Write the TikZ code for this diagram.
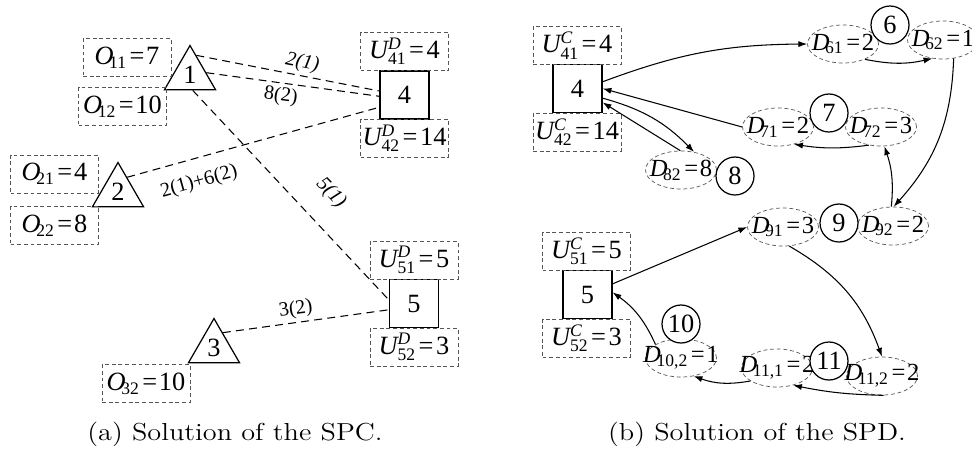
\documentclass[tikz,border=0pt]{standalone}
\usepackage{fontspec}
\usetikzlibrary{shapes.geometric,arrows.meta}
\newfontfamily\tnr{Liberation Serif}
\definecolor{boxgray}{HTML}{555555}

\newcommand{\olbl}[3]{{\tnr\itshape #1}\kern-2.5pt$_{\mbox{\tnr\fontsize{10}{10}\selectfont #2}}$\kern1.5pt{\tnr=\kern1pt#3}}
\newcommand{\ulbl}[4]{{\tnr\itshape #1}$^{\mbox{\tnr\itshape\fontsize{10}{10}\selectfont #2}}_{\mbox{\tnr\fontsize{10}{10}\selectfont #3}}$\kern1.5pt{\tnr=\kern1.5pt#4}}
\newcommand{\dlbl}[3]{\makebox[0pt]{\olbl{#1}{#2}{#3}}}

\tikzset{
  valbox/.style={draw=boxgray, dash pattern=on 2.2pt off 1.6pt, minimum width=1.76cm, minimum height=0.76cm, inner sep=0pt, font=\fontsize{15}{17}\selectfont},
  site/.style={draw, line width=0.7pt, minimum width=0.98cm, minimum height=0.96cm, inner sep=0pt, font=\tnr\fontsize{15}{17}\selectfont},
  depot/.style={draw, line width=0.7pt, regular polygon, regular polygon sides=3, minimum size=1.18cm, inner sep=0pt, font=\tnr\fontsize{15}{17}\selectfont},
  demand/.style={draw=boxgray, dash pattern=on 2.2pt off 1.6pt, ellipse, minimum width=1.42cm, minimum height=0.76cm, inner sep=0pt, font=\fontsize{14}{16}\selectfont},
  stop/.style={draw, fill=white, line width=0.7pt, circle, minimum size=0.76cm, inner sep=0pt, font=\tnr\fontsize{15}{17}\selectfont},
  route/.style={dash pattern=on 4.5pt off 3pt, line width=0.6pt},
  tour/.style={-{Latex[length=5pt,width=3.5pt]}, line width=0.6pt},
  cost/.style={font=\tnr\fontsize{11.5}{13}\selectfont, sloped, inner sep=2pt},
  caption/.style={font=\fontsize{14}{16}\selectfont}
}

\begin{document}
\begin{tikzpicture}[x=0.02cm,y=0.02cm]
\useasboundingbox (0,0) rectangle (972,-454);

\node[depot] (t1) at (190,-75) {1};
\node[depot] (t2) at (118,-192) {2};
\node[depot] (t3) at (214,-348) {3};
\node[site] (b4) at (404.5,-95) {4};
\node[site] (b5) at (414,-303.5) {5};

\node[valbox] (o11) at (127,-57.5) {\olbl{O}{11}{7}};
\node[valbox] (o12) at (122.5,-106.5) {\olbl{O}{12}{10}};
\node[valbox] (o21) at (54.5,-174) {\olbl{O}{21}{4}};
\node[valbox] (o22) at (54.5,-225.5) {\olbl{O}{22}{8}};
\node[valbox] (o32) at (146,-383.5) {\olbl{O}{32}{10}};
\node[valbox] (u41) at (404.5,-51.5) {\ulbl{U}{D}{41}{4}};
\node[valbox] (u42) at (404.5,-138) {\ulbl{U}{D}{42}{14}};
\node[valbox] (u51) at (414,-260) {\ulbl{U}{D}{51}{5}};
\node[valbox] (u52) at (414,-347) {\ulbl{U}{D}{52}{3}};

\draw[route] (t1.72) -- node[cost, above, pos=0.565] {\textit{2(1)}} (b4.171);
\draw[route] (t1.8) -- node[cost, below, pos=0.44] {8(2)} (b4.183);
\draw[route] (t2.58) -- node[cost, below=6pt, pos=0.26] {2(1)+6(2)} (b4.206);
\draw[route] (t1.-80) -- node[cost, above=10pt, pos=0.59] {\textit{5(1)}} (b5.172);
\draw[route] (t3.60) -- node[cost, above, pos=0.45] {3(2)} (b5.194);

\node[caption] (capa) at (235,-434) {\scalebox{1.15}[1]{(a) Solution of the SPC.}};

\node[site] (r4) at (577.5,-88.5) {4};
\node[site] (r5) at (587.5,-294.5) {5};
\node[valbox] (c41) at (577,-45.5) {\ulbl{U}{C}{41}{4}};
\node[valbox] (c42) at (577,-132) {\ulbl{U}{C}{42}{14}};
\node[valbox] (c51) at (586.5,-251) {\ulbl{U}{C}{51}{5}};
\node[valbox] (c52) at (586.5,-338) {\ulbl{U}{C}{52}{3}};

\node[demand] (d61) at (843,-44) {\dlbl{D}{61}{2}};
\node[demand] (d62) at (943,-40) {\dlbl{D}{62}{1}};
\node[demand] (d71) at (778,-127) {\dlbl{D}{71}{2}};
\node[demand] (d72) at (881,-127) {\dlbl{D}{72}{3}};
\node[demand] (d82) at (681,-170) {\dlbl{D}{82}{8}};
\node[demand] (d91) at (783,-227) {\dlbl{D}{91}{3}};
\node[demand] (d92) at (893,-226) {\dlbl{D}{92}{2}};
\node[demand] (d102) at (681,-358) {\dlbl{D}{10,2}{1}};
\node[demand] (d111) at (777,-368) {\dlbl{D}{11,1}{2}};
\node[demand] (d112) at (882,-376) {\dlbl{D}{11,2}{2}};

\node[stop] (s6) at (890,-25) {6};
\node[stop] (s7) at (829,-113) {7};
\node[stop] (s8) at (735,-176) {8};
\node[stop] (s9) at (839,-223) {9};
\node[stop] (s10) at (681,-324) {10};
\node[stop] (s11) at (829,-361) {11};

\draw[tour] (r4.15) to[bend left=10] (d61.west);
\draw[tour] (d61.-35) to[bend right=12] (d62.240);
\draw[tour] (d62.-60) to[bend left=20] (d92.88);
\draw[tour] (d92.95) to[bend right=12] (d72.-80);
\draw[tour] (d72.236) to[bend left=8] (d71.-47);
\draw[tour] (d71.west) -- (r4.east);
\draw[tour] (r4.-21) to[bend left=15] (d82.54);
\draw[tour] (d82.92) -- (r4.-29);
\draw[tour] (r5.23) -- (d91.west);
\draw[tour] (d91.-72) to[bend left=20] (d112.north);
\draw[tour] (d112.-85) to[bend left=5] (d111.-47);
\draw[tour] (d111.206) to[bend left=15] (d102.-55);
\draw[tour] (d102.152) to[bend right=15] (r5.5);

\node[caption] (capb) at (757,-434) {\scalebox{1.15}[1]{(b) Solution of the SPD.}};
\end{tikzpicture}
\end{document}
